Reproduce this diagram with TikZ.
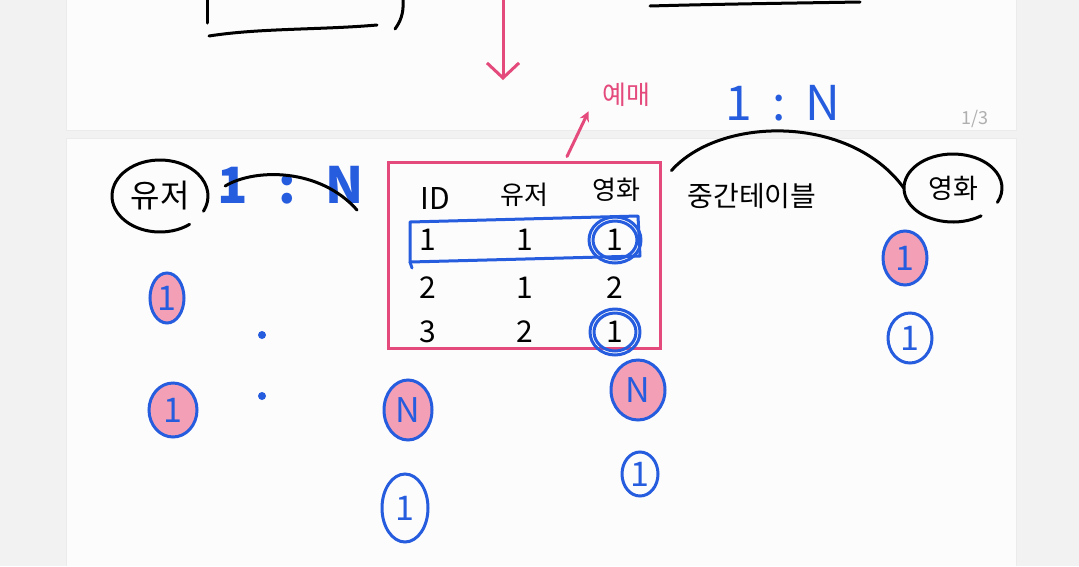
\documentclass[tikz,border=0pt]{standalone}
\usepackage{fontspec}
\setmainfont{Noto Sans CJK KR}
\usepackage{tikz}
\usetikzlibrary{arrows.meta,shapes.geometric,positioning}
\definecolor{notebg}{RGB}{242,242,242}
\definecolor{notepage}{RGB}{252,252,252}
\definecolor{notepink}{RGB}{228,74,124}
\definecolor{notepinklight}{RGB}{243,160,182}
\definecolor{noteblue}{RGB}{38,92,222}
\definecolor{notegray}{RGB}{175,175,175}
\tikzset{
  pen/.style={line width=3pt, line cap=round, line join=round},
  blackpen/.style={pen, black},
  pinkpen/.style={pen, notepink},
  bluepen/.style={pen, noteblue},
  word/.style={inner sep=0pt, font=\fontsize{30}{30}\selectfont},
  cell/.style={inner sep=0pt, font=\fontsize{30}{30}\selectfont},
  head/.style={inner sep=0pt, font=\fontsize{26}{26}\selectfont},
  ringed/.style={ellipse, draw=noteblue, line width=3pt, inner sep=0pt, text=noteblue, font=\fontsize{34}{34}\selectfont},
  hilite/.style={ringed, fill=notepinklight}
}
\begin{document}
\begin{tikzpicture}[x=1pt, y=-1pt]
% paper
\fill[notebg] (0,0) rectangle (1079,566);
\useasboundingbox (0,0) rectangle (1079,566);
\fill[notepage] (66,0) rectangle (1016,130);
\fill[notepage] (66,138) rectangle (1016,566);
\draw[black!8, line width=1pt] (66,0) -- (66,130) -- (1016,130) -- (1016,0);
\draw[black!8, line width=1pt] (66,566) -- (66,138) -- (1016,138) -- (1016,566);
\node[text=notegray, font=\fontsize{18}{18}\selectfont] (pageno) at (975,119) {1/3};

% end of previous page
\draw[blackpen] (207,0) -- (207,23);
\draw[blackpen] (209,36) .. controls (260,28) and (320,30) .. (377,25);
\draw[blackpen] (403,0) .. controls (404,14) and (400,22) .. (395,29);
\draw[blackpen] (650,6) .. controls (720,4) and (800,3) .. (860,2);
\coordinate (prev) at (503,0);
\coordinate (down) at (503,80);
\draw[pinkpen, -{Straight Barb[length=15pt, width=32pt, line width=3pt]}] (prev) -- (down);

% labels above the table
\node[text=notepink, font=\fontsize{26}{26}\selectfont] (yemae) at (626,95) {예매};
\node[text=noteblue, font=\fontsize{48}{48}\selectfont] (ratiotop) at (783,103) {1\hspace{20pt}:\hspace{20pt}N};

% user side
\node[ellipse, minimum width=96pt, minimum height=72pt, word, font=\fontsize{32}{32}\selectfont] (user) at (160,196) {유저};
\draw[blackpen] (user.center) ++(52:48 and 36) arc[start angle=52, end angle=385, x radius=48, y radius=36];
\node[text=noteblue, font=\fontsize{50}{50}\bfseries\selectfont, inner sep=0pt] (ratioleft) at (291,185) {1\hspace{30pt}:\hspace{30pt}N};
\draw[blackpen] ([xshift=17pt, yshift=10pt]user.east) .. controls (255,168) and (320,168) .. (357,210);

% join table
\node[draw=notepink, line width=3pt, minimum width=272pt, minimum height=186pt, inner sep=0pt] (table) at (524,255) {};
\node[cell] (hid) at (435,198) {ID};
\node[head] (huser) at (524,195) {유저};
\node[head] (hmovie) at (616,190) {영화};
\foreach \id/\usr/\mov/\y in {1/1/1/240, 2/1/2/288, 3/2/1/332}{
  \node[cell] (id\id) at (428,\y) {\id};
  \node[cell] (usr\id) at (525,\y) {\usr};
  \node[cell] (mov\id) at (615,\y) {\mov};
}
\draw[bluepen] (410,222) -- (638,216) -- (640,256) -- (410,262) -- cycle;
\draw[bluepen] (410,262) -- (412,268);
\draw[bluepen] (mov1) ellipse[x radius=26, y radius=23];
\draw[bluepen] (mov1) ellipse[x radius=22, y radius=19];
\draw[bluepen] (mov3) ellipse[x radius=25, y radius=23];
\draw[bluepen] (mov3) ellipse[x radius=21, y radius=19];
\draw[pinkpen, -{Stealth[length=10pt, width=10pt]}] ([xshift=43pt, yshift=4pt]table.north) -- ([xshift=-10pt, yshift=-1pt]yemae.south west);

% movie side
\node[word, font=\fontsize{28}{28}\selectfont] (junction) at (752,196) {중간테이블};
\node[ellipse, minimum width=98pt, minimum height=68pt, word, font=\fontsize{27}{27}\selectfont] (movie) at (953,188) {영화};
\draw[blackpen] (movie.center) ++(55:49 and 34) arc[start angle=55, end angle=385, x radius=49, y radius=34];
\draw[blackpen] ([xshift=10pt, yshift=-10pt]table.north east) .. controls (720,116) and (850,114) .. (movie.west);

% cardinalities
\node[hilite, minimum width=34pt, minimum height=50pt] (u1) at (167,298) {1};
\node[hilite, minimum width=48pt, minimum height=54pt] (u2) at (173,410) {1};
\fill[noteblue] (262,335) circle (4);
\fill[noteblue] (262,396) circle (4);
\node[hilite, minimum width=48pt, minimum height=60pt] (tn) at (408,410) {N};
\node[ringed, minimum width=46pt, minimum height=68pt] (t1) at (405,508) {1};
\node[hilite, minimum width=54pt, minimum height=60pt] (mn) at (638,390) {N};
\node[ringed, minimum width=36pt, minimum height=44pt] (m1) at (640,474) {1};
\node[hilite, minimum width=44pt, minimum height=54pt] (v1) at (905,258) {1};
\node[ringed, minimum width=44pt, minimum height=50pt] (v2) at (910,338) {1};
\end{tikzpicture}
\end{document}
